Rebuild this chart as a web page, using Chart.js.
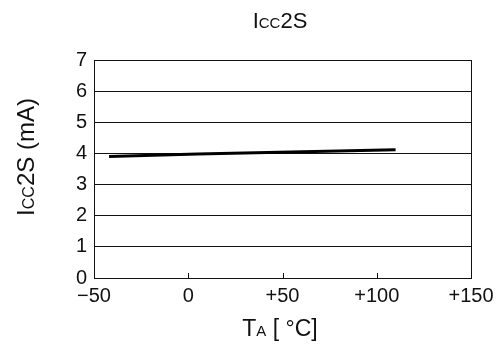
<!DOCTYPE html>
<html>
<head>
<meta charset="utf-8">
<script src="https://cdn.jsdelivr.net/npm/chart.js@4"></script>
<style>
  html, body { margin: 0; padding: 0; background: #fff; }
  #wrap { width: 500px; height: 350px; }
</style>
</head>
<body>
<div id="wrap"><canvas id="c"></canvas></div>
<script>
// Data
const tempC = [-42, 5, 110];
const iccMa = [3.9, 3.98, 4.12];
const xTickValues = [-50, 0, 50, 100, 150];
const xTickLabels = ['\u221250', '0', '+50', '+100', '+150'];
const yTickValues = [0, 1, 2, 3, 4, 5, 6, 7];

const FONT = "'Liberation Sans', Arial, sans-serif";

// draw one text run made of pieces with different sizes, centred on x
function drawRuns(ctx, runs, x, y) {
  let total = 0;
  runs.forEach(r => { ctx.font = r.size + 'px ' + FONT; total += ctx.measureText(r.text).width; });
  let cx = x - total / 2;
  runs.forEach(r => {
    ctx.font = r.size + 'px ' + FONT;
    ctx.fillText(r.text, cx, y);
    cx += ctx.measureText(r.text).width;
  });
}

// Plugin: titles with small caps subscripts, plus inward tick marks on x
const labelsPlugin = {
  id: 'labels',
  afterDraw(chart) {
    const ctx = chart.ctx;
    const { bottom } = chart.chartArea;
    const xs = chart.scales.x;
    ctx.save();
    ctx.fillStyle = '#111';
    ctx.textBaseline = 'alphabetic';
    ctx.textAlign = 'left';

    // title
    drawRuns(ctx, [{ text: 'I', size: 22 }, { text: 'CC', size: 15 }, { text: '2S', size: 22 }], 280, 28);

    // x axis title
    drawRuns(ctx, [{ text: 'T', size: 23 }, { text: 'A', size: 15 }, { text: ' [ \u00b0C]', size: 23 }], 280, 336);

    // y axis title (rotated)
    ctx.save();
    ctx.translate(34, 157);
    ctx.rotate(-Math.PI / 2);
    drawRuns(ctx, [{ text: 'I', size: 24 }, { text: 'CC', size: 16 }, { text: '2S (mA)', size: 24 }], 0, 0);
    ctx.restore();

    // small inward ticks on the x axis
    ctx.strokeStyle = '#111';
    ctx.lineWidth = 1;
    xTickValues.forEach(v => {
      const px = Math.round(xs.getPixelForValue(v)) + 0.5;
      ctx.beginPath();
      ctx.moveTo(px, bottom);
      ctx.lineTo(px, bottom - 5);
      ctx.stroke();
    });
    ctx.restore();
  }
};

new Chart(document.getElementById('c'), {
  type: 'line',
  data: {
    datasets: [{
      data: tempC.map((t, i) => ({ x: t, y: iccMa[i] })),
      borderColor: '#000',
      borderWidth: 3,
      pointRadius: 0,
      tension: 0,
      fill: false,
    }]
  },
  options: {
    responsive: true,
    maintainAspectRatio: false,
    animation: false,
    layout: { padding: { left: 0, right: 29, top: 60, bottom: 0 } },
    plugins: { legend: { display: false }, tooltip: { enabled: false } },
    scales: {
      x: {
        type: 'linear',
        min: -50,
        max: 150,
        afterBuildTicks(scale) { scale.ticks = xTickValues.map(v => ({ value: v })); },
        afterFit(scale) { scale.height = 72; },
        ticks: {
          color: '#111',
          font: { family: FONT, size: 20 },
          padding: 6,
          maxRotation: 0,
          autoSkip: false,
          callback: (v) => xTickLabels[xTickValues.indexOf(v)],
        },
        grid: { display: false, drawTicks: false },
        border: { display: true, color: '#111', width: 1 },
      },
      y: {
        min: 0,
        max: 7,
        afterBuildTicks(scale) { scale.ticks = yTickValues.map(v => ({ value: v })); },
        afterFit(scale) { scale.width = 94; },
        ticks: {
          color: '#111',
          font: { family: FONT, size: 20 },
          padding: 7,
          autoSkip: false,
        },
        grid: { color: '#111', lineWidth: 1, drawTicks: false },
        border: { display: true, color: '#111', width: 1 },
      },
      yRight: {
        position: 'right',
        min: 0,
        max: 7,
        ticks: { display: false },
        grid: { display: false, drawTicks: false },
        border: { display: true, color: '#111', width: 1 },
        afterFit(scale) { scale.width = 0; },
      }
    }
  },
  plugins: [labelsPlugin]
});
</script>
</body>
</html>
